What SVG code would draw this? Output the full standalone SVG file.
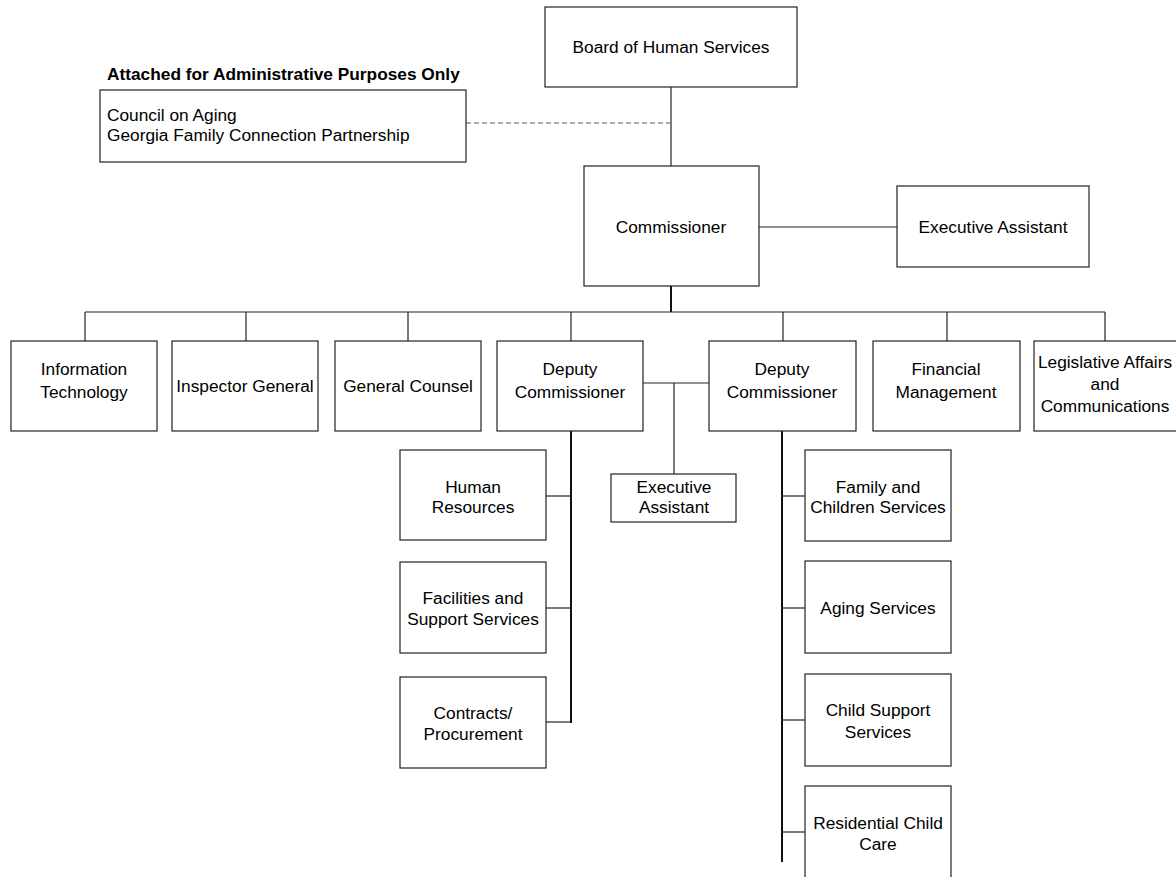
<svg xmlns="http://www.w3.org/2000/svg" width="1176" height="877" viewBox="0 0 1176 877">
<style>
.box{fill:#fff;stroke:#222;stroke-width:1.2}
.t{font-family:"Liberation Sans",Arial,sans-serif;font-size:17.3px;fill:#000;text-anchor:middle}
.tl{font-family:"Liberation Sans",Arial,sans-serif;font-size:17.3px;fill:#000}
.b{font-weight:bold;font-size:17.3px}
.ln{stroke:#222;stroke-width:1.2;fill:none}
.thick{stroke:#111;stroke-width:2;fill:none}
.dash{stroke:#555;stroke-width:1.2;stroke-dasharray:5,3;fill:none}
</style>
<rect width="1176" height="877" fill="#fff"/>
<g id="connectors">
<line class="ln" x1="671" y1="87" x2="671" y2="166"/>
<line class="dash" x1="466" y1="123" x2="670" y2="123"/>
<line class="ln" x1="759" y1="227" x2="897" y2="227"/>
<line class="thick" x1="671" y1="286" x2="671" y2="312"/>
<line class="ln" x1="85" y1="312" x2="1105" y2="312"/>
<line class="ln" x1="85" y1="312" x2="85" y2="341"/>
<line class="ln" x1="246" y1="312" x2="246" y2="341"/>
<line class="ln" x1="408" y1="312" x2="408" y2="341"/>
<line class="ln" x1="571" y1="312" x2="571" y2="341"/>
<line class="ln" x1="783" y1="312" x2="783" y2="341"/>
<line class="ln" x1="947" y1="312" x2="947" y2="341"/>
<line class="ln" x1="1105" y1="312" x2="1105" y2="341"/>
<line class="ln" x1="643" y1="383" x2="709" y2="383"/>
<line class="ln" x1="674" y1="383" x2="674" y2="474"/>
<line class="thick" x1="571" y1="431" x2="571" y2="723"/>
<line class="ln" x1="546" y1="496" x2="571" y2="496"/>
<line class="ln" x1="546" y1="608" x2="571" y2="608"/>
<line class="ln" x1="546" y1="722" x2="571" y2="722"/>
<line class="thick" x1="782" y1="431" x2="782" y2="862"/>
<line class="ln" x1="782" y1="496" x2="805" y2="496"/>
<line class="ln" x1="782" y1="608" x2="805" y2="608"/>
<line class="ln" x1="782" y1="720" x2="805" y2="720"/>
<line class="ln" x1="782" y1="832" x2="805" y2="832"/>
</g>
<g id="board"><rect class="box" x="545" y="7" width="252" height="80"/><text class="t" x="671" y="53">Board of Human Services</text></g>
<g id="attached">
<text class="tl b" x="107" y="80">Attached for Administrative Purposes Only</text>
<rect class="box" x="100" y="90" width="366" height="72"/>
<text class="tl" x="107" y="121">Council on Aging</text>
<text class="tl" x="107" y="141">Georgia Family Connection Partnership</text>
</g>
<g id="commissioner"><rect class="box" x="584" y="166" width="175" height="120"/><text class="t" x="671" y="233">Commissioner</text></g>
<g id="exec1"><rect class="box" x="897" y="186" width="192" height="81"/><text class="t" x="993" y="233">Executive Assistant</text></g>
<g id="it"><rect class="box" x="11" y="341" width="146" height="90"/><text class="t" x="84" y="375">Information</text><text class="t" x="84" y="398">Technology</text></g>
<g id="ig"><rect class="box" x="172" y="341" width="146" height="90"/><text class="t" x="245" y="392">Inspector General</text></g>
<g id="gc"><rect class="box" x="335" y="341" width="146" height="90"/><text class="t" x="408" y="392">General Counsel</text></g>
<g id="dc1"><rect class="box" x="497" y="341" width="146" height="90"/><text class="t" x="570" y="375">Deputy</text><text class="t" x="570" y="398">Commissioner</text></g>
<g id="dc2"><rect class="box" x="709" y="341" width="147" height="90"/><text class="t" x="782" y="375">Deputy</text><text class="t" x="782" y="398">Commissioner</text></g>
<g id="fm"><rect class="box" x="873" y="341" width="147" height="90"/><text class="t" x="946" y="375">Financial</text><text class="t" x="946" y="398">Management</text></g>
<g id="la"><rect class="box" x="1034" y="341" width="146" height="90"/><text class="t" x="1105" y="368">Legislative Affairs</text><text class="t" x="1105" y="390">and</text><text class="t" x="1105" y="412">Communications</text></g>
<g id="exec2"><rect class="box" x="611" y="474" width="125" height="48"/><text class="t" x="674" y="493">Executive</text><text class="t" x="674" y="513">Assistant</text></g>
<g id="hr"><rect class="box" x="400" y="450" width="146" height="90"/><text class="t" x="473" y="493">Human</text><text class="t" x="473" y="513">Resources</text></g>
<g id="fac"><rect class="box" x="400" y="562" width="146" height="91"/><text class="t" x="473" y="604">Facilities and</text><text class="t" x="473" y="625">Support Services</text></g>
<g id="cp"><rect class="box" x="400" y="677" width="146" height="91"/><text class="t" x="473" y="719">Contracts/</text><text class="t" x="473" y="740">Procurement</text></g>
<g id="fcs"><rect class="box" x="805" y="450" width="146" height="91"/><text class="t" x="878" y="493">Family and</text><text class="t" x="878" y="513">Children Services</text></g>
<g id="as"><rect class="box" x="805" y="561" width="146" height="92"/><text class="t" x="878" y="614">Aging Services</text></g>
<g id="css"><rect class="box" x="805" y="674" width="146" height="92"/><text class="t" x="878" y="716">Child Support</text><text class="t" x="878" y="738">Services</text></g>
<g id="rcc"><rect class="box" x="805" y="786" width="146" height="100"/><text class="t" x="878" y="829">Residential Child</text><text class="t" x="878" y="850">Care</text></g>
</svg>
